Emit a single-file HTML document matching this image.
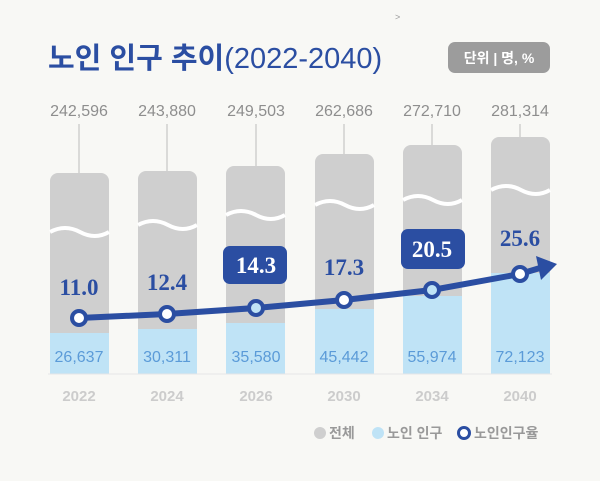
<!DOCTYPE html>
<html><head><meta charset="utf-8"><style>
body{margin:0;width:600px;height:481px;background:#f8f8f5;overflow:hidden;font-family:"Liberation Sans","Noto Sans CJK KR",sans-serif}
</style></head><body>
<svg width="600" height="481" xmlns="http://www.w3.org/2000/svg" style="position:absolute;left:0;top:0">
<text x="395" y="20" font-size="9" fill="#999">&gt;</text>
<text x="48" y="68" font-size="29" font-weight="bold" fill="#2b4ea2" font-family="Liberation Sans,Noto Sans CJK KR,sans-serif">노인 인구 추이<tspan font-weight="normal">(2022-2040)</tspan></text>
<rect x="448" y="42" width="102" height="31" rx="7" fill="#9c9c9c"/>
<text x="499" y="63" font-size="14" font-weight="bold" fill="#fff" text-anchor="middle">단위 | 명, %</text>
<g font-size="16" fill="#8e8e8e" text-anchor="middle">
<text x="79" y="116">242,596</text><text x="167" y="116">243,880</text><text x="256" y="116">249,503</text>
<text x="344" y="116">262,686</text><text x="432" y="116">272,710</text><text x="520" y="116">281,314</text></g>
<g stroke="#bbb" stroke-width="1">
<line x1="79" y1="124" x2="79" y2="174"/><line x1="167" y1="124" x2="167" y2="172"/><line x1="256" y1="124" x2="256" y2="167"/>
<line x1="344" y1="124" x2="344" y2="155"/><line x1="432" y1="124" x2="432" y2="146"/><line x1="520" y1="124" x2="520" y2="138"/></g>
<g fill="#cfcfcf">
<rect x="50" y="173" width="59" height="201" rx="8"/><rect x="138" y="171" width="59" height="203" rx="8"/>
<rect x="226" y="166" width="59" height="208" rx="8"/><rect x="315" y="154" width="59" height="220" rx="8"/>
<rect x="403" y="145" width="59" height="229" rx="8"/><rect x="491" y="137" width="59" height="237" rx="8"/></g>
<g fill="#bfe3f6">
<rect x="50" y="333" width="59" height="41"/><rect x="138" y="329" width="59" height="45"/>
<rect x="226" y="323" width="59" height="51"/><rect x="315" y="309" width="59" height="65"/>
<rect x="403" y="296" width="59" height="78"/><rect x="491" y="273" width="59" height="101"/></g>
<g fill="none" stroke="#fff" stroke-width="4">
<path d="M50 232 Q65 224 80 232 T109 232"/><path d="M138 225 Q153 217 168 225 T197 225"/>
<path d="M226 215 Q241 207 256 215 T285 215"/><path d="M315 205 Q330 197 345 205 T374 205"/>
<path d="M403 200 Q418 192 433 200 T462 200"/><path d="M491 190 Q506 182 521 190 T550 190"/></g>
<line x1="48" y1="374" x2="552" y2="374" stroke="#e6e6e6"/>
<g font-size="16" fill="#5b9bd8" text-anchor="middle">
<text x="79" y="362">26,637</text><text x="167" y="362">30,311</text><text x="256" y="362">35,580</text>
<text x="344" y="362">45,442</text><text x="432" y="362">55,974</text><text x="520" y="362">72,123</text></g>
<path d="M79 318 L167 314 L256 308 L344 300 L432 290 L520 274 L540 268" fill="none" stroke="#2b4ea2" stroke-width="6"/>
<polygon points="557,264 536,256 541,280" fill="#2b4ea2"/>
<g stroke="#2b4ea2" stroke-width="4" fill="#fff">
<circle cx="79" cy="318" r="7"/><circle cx="167" cy="314" r="7"/><circle cx="256" cy="308" r="7" fill="#bfe3f6"/>
<circle cx="344" cy="300" r="7"/><circle cx="432" cy="290" r="7" fill="#bfe3f6"/><circle cx="520" cy="274" r="7"/></g>
<rect x="223" y="246" width="64" height="38" rx="7" fill="#2b4ea2"/>
<rect x="401" y="229" width="64" height="40" rx="7" fill="#2b4ea2"/>
<g font-size="23" font-weight="bold" font-family="Liberation Serif,serif" text-anchor="middle">
<text x="79" y="295" fill="#2b4ea2">11.0</text><text x="167" y="290" fill="#2b4ea2">12.4</text>
<text x="256" y="273" fill="#fff">14.3</text><text x="344" y="275" fill="#2b4ea2">17.3</text>
<text x="432" y="257" fill="#fff">20.5</text><text x="520" y="246" fill="#2b4ea2">25.6</text></g>
<g font-size="15" font-weight="bold" fill="#cccccc" text-anchor="middle">
<text x="79" y="401">2022</text><text x="167" y="401">2024</text><text x="256" y="401">2026</text>
<text x="344" y="401">2030</text><text x="432" y="401">2034</text><text x="520" y="401">2040</text></g>
<circle cx="320" cy="433" r="6" fill="#cfcfcf"/><text x="329" y="438" font-size="14" font-weight="bold" fill="#999">전체</text>
<circle cx="378" cy="433" r="6" fill="#bfe3f6"/><text x="387" y="438" font-size="14" font-weight="bold" fill="#999">노인 인구</text>
<circle cx="464" cy="433" r="5.5" fill="#fff" stroke="#2b4ea2" stroke-width="3"/><text x="474" y="438" font-size="14" font-weight="bold" fill="#999">노인인구율</text>
</svg>
</body></html>
